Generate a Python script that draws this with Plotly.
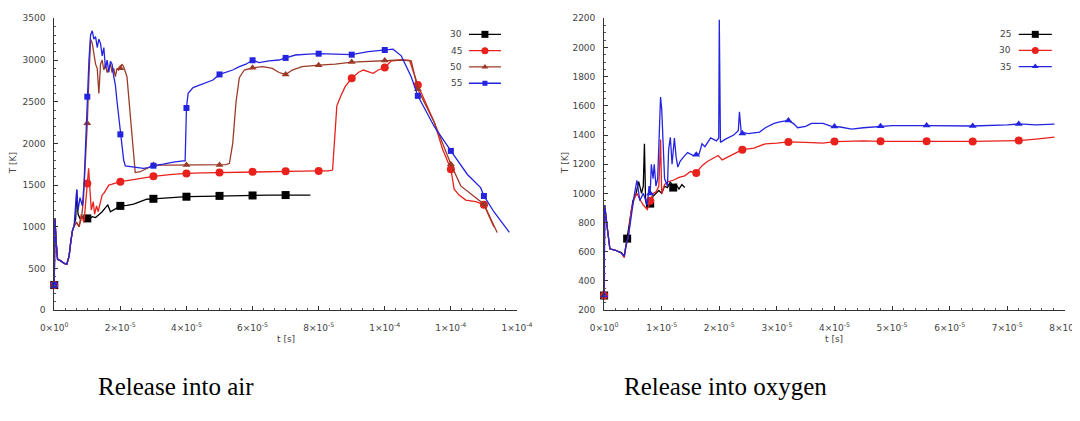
import plotly.graph_objects as go

# Figure size and the observed mapping from figure pixels to the photographed page pixels
W, H = 1092, 416
SX, OX = 0.971, 21.8     # page_x = OX + SX * fig_x
SY, OY = 0.9875, 11.1    # page_y = OY + SY * fig_y

# ---------------- DATA: Release into air (t in units of 1e-5 s, T in K) ----------------
air30_t = [0, 0.02, 0.06, 0.1, 0.2, 0.3, 0.38, 0.45, 0.5, 0.55, 0.6, 0.65, 0.68, 0.72, 0.78, 0.85,
           0.92, 1.0, 1.08, 1.15, 1.25, 1.35, 1.45, 1.55, 1.62, 1.7, 1.8, 1.9, 2.0, 2.2, 2.4, 2.6,
           2.8, 3.0, 3.3, 3.6, 4.0, 4.5, 5.0, 5.5, 6.0, 6.5, 7.0, 7.4, 7.75]
air30_T = [300, 1100, 800, 610, 590, 560, 550, 650, 820, 950, 1010, 1100, 1440, 1150, 1100, 1120,
           1080, 1100, 1100, 1120, 1110, 1140, 1180, 1230, 1260, 1180, 1200, 1230, 1250, 1255, 1270, 1300,
           1330, 1335, 1345, 1350, 1360, 1365, 1370, 1372, 1375, 1378, 1380, 1380, 1380]
air30_mt = [0, 1, 2, 3, 4, 5, 6, 7]
air30_mT = [300, 1100, 1250, 1335, 1360, 1370, 1375, 1380]

air45_t = [0, 0.02, 0.06, 0.1, 0.2, 0.3, 0.38, 0.45, 0.5, 0.55, 0.6, 0.68, 0.75, 0.82, 0.9, 0.95,
           1.0, 1.04, 1.08, 1.12, 1.18, 1.22, 1.28, 1.33, 1.4, 1.45, 1.5, 1.58, 1.65, 1.75, 1.85, 2.0,
           2.3, 2.6, 3.0, 3.5, 4.0, 4.5, 5.0, 5.5, 6.0, 6.5, 7.0, 7.5, 8.0, 8.3, 8.42, 8.48, 8.55,
           8.65, 8.8, 9.0, 9.2, 9.35, 9.5, 9.65, 9.8, 10.0, 10.2, 10.5, 10.75, 11.0, 11.2, 11.5, 11.75,
           12.0, 12.1, 12.25, 12.45, 12.75, 13.0, 13.3]
air45_T = [300, 1100, 800, 610, 590, 560, 550, 650, 820, 950, 1010, 1050, 1000, 1150, 1050, 1250,
           1520, 1700, 1450, 1200, 1300, 1150, 1250, 1180, 1300, 1380, 1400, 1460, 1500, 1510, 1520, 1540,
           1560, 1580, 1605, 1625, 1640, 1645, 1650, 1655, 1660, 1662, 1665, 1667, 1670, 1670, 1680, 2100, 2450,
           2550, 2680, 2780, 2850, 2880, 2860, 2840, 2880, 2910, 2990, 3000, 2995, 2700, 2520, 2250, 1930,
           1690, 1450, 1380, 1320, 1300, 1265, 1000]
air45_mt = [0, 1, 2, 3, 4, 5, 6, 7, 8, 9, 10, 11, 12, 13]
air45_mT = [300, 1520, 1540, 1605, 1640, 1650, 1660, 1665, 1670, 2780, 2910, 2700, 1690, 1265]

air50_t = [0, 0.02, 0.06, 0.1, 0.2, 0.3, 0.38, 0.45, 0.5, 0.55, 0.6, 0.68, 0.75, 0.82, 0.88, 0.96,
           1.0, 1.05, 1.1, 1.15, 1.2, 1.25, 1.3, 1.35, 1.4, 1.45, 1.5, 1.55, 1.6, 1.65, 1.7, 1.75,
           1.8, 1.85, 1.9, 1.95, 2.0, 2.05, 2.1, 2.2, 2.3, 2.38, 2.45, 2.6, 2.8, 3.0, 3.5, 4.0, 4.5,
           5.0, 5.2, 5.3, 5.4, 5.5, 5.6, 5.75, 6.0, 6.3, 6.6, 6.8, 7.0, 7.2, 7.5, 8.0, 8.5, 9.0,
           9.5, 10.0, 10.5, 10.8, 11.0, 11.5, 12.0, 12.3, 12.6, 13.0, 13.4]
air50_T = [300, 1100, 800, 610, 590, 560, 550, 650, 820, 950, 1010, 1050, 1000, 1100, 1300, 1900,
           2240, 2800, 3250, 3200, 3050, 2950, 2900, 2600, 2950, 3000, 2880, 2950, 2850, 2900, 2950, 2850,
           2900, 2800, 2900, 2880, 2900, 2950, 2920, 2800, 2300, 1900, 1650, 1660, 1700, 1740, 1740, 1740, 1740,
           1740, 1745, 1760, 2000, 2500, 2788, 2880, 2906, 2920, 2900, 2850, 2827, 2880, 2920, 2938, 2950, 2975,
           2985, 2993, 3000, 2990, 2650, 2250, 1750, 1490, 1400, 1270, 930]
air50_mt = [0, 1, 2, 3, 4, 5, 6, 7, 8, 9, 10, 11, 12, 13]
air50_mT = [300, 2240, 2900, 1740, 1740, 1740, 2906, 2827, 2938, 2975, 2993, 2650, 1750, 1270]

air55_t = [0, 0.02, 0.06, 0.1, 0.2, 0.3, 0.38, 0.45, 0.5, 0.55, 0.6, 0.65, 0.68, 0.72, 0.78, 0.85,
           0.9, 0.95, 1.0, 1.05, 1.1, 1.15, 1.2, 1.25, 1.3, 1.35, 1.4, 1.45, 1.5, 1.55, 1.6, 1.65,
           1.7, 1.75, 1.8, 1.85, 1.9, 2.0, 2.1, 2.15, 2.3, 2.5, 2.7, 2.85, 3.0, 3.3, 3.6, 3.9, 3.96,
           4.0, 4.05, 4.2, 4.5, 4.8, 5.0, 5.2, 5.4, 5.6, 5.8, 6.0, 6.2, 6.5, 6.8, 7.0, 7.3, 7.7,
           8.0, 8.5, 9.0, 9.5, 10.0, 10.25, 10.5, 10.8, 11.0, 11.5, 12.0, 12.5, 12.9, 13.0, 13.3, 13.77]
air55_T = [300, 1100, 800, 610, 590, 560, 550, 650, 820, 950, 1010, 1250, 1450, 1200, 1350, 1250,
           1500, 2000, 2560, 3000, 3300, 3350, 3250, 3280, 3150, 3250, 3200, 3050, 3150, 2900, 3000, 2850,
           2985, 2950, 2800, 2700, 2500, 2108, 1800, 1730, 1720, 1715, 1700, 1710, 1732, 1750, 1775, 1790, 1790,
           2424, 2600, 2669, 2710, 2760, 2827, 2850, 2880, 2920, 2950, 2997, 2970, 2990, 3000, 3025, 3060, 3070,
           3076, 3070, 3064, 3100, 3120, 3130, 3050, 2800, 2570, 2200, 1910, 1627, 1469, 1369, 1180, 933]
air55_mt = [0, 1, 2, 3, 4, 5, 6, 7, 8, 9, 10, 11, 12, 13]
air55_mT = [300, 2560, 2108, 1732, 2424, 2827, 2997, 3025, 3076, 3064, 3120, 2570, 1910, 1369]

air_labels = ["30", "45", "50", "55"]

# ---------------- DATA: Release into oxygen (t in units of 1e-5 s, T in K) ----------------
oxy25_t = [0, 0.01, 0.05, 0.1, 0.2, 0.3, 0.35, 0.38, 0.4, 0.45, 0.5, 0.55, 0.6, 0.65, 0.68, 0.7,
           0.72, 0.75, 0.8, 0.85, 0.9, 0.95, 1.0, 1.05, 1.1, 1.15, 1.2, 1.25, 1.3, 1.35, 1.4]
oxy25_T = [300, 920, 780, 620, 610, 595, 570, 640, 690, 820, 950, 990, 1080, 1000, 1050, 1340,
           950, 900, 930, 980, 1000, 1020, 1000, 1050, 1040, 1080, 1040, 1060, 1030, 1060, 1040]
oxy25_mt = [0, 0.4, 0.8, 1.2]
oxy25_mT = [300, 690, 930, 1040]

oxy30_t = [0, 0.01, 0.05, 0.1, 0.2, 0.3, 0.35, 0.38, 0.42, 0.47, 0.52, 0.57, 0.62, 0.68, 0.75, 0.8,
           0.85, 0.9, 0.95, 0.98, 1.0, 1.05, 1.1, 1.2, 1.3, 1.4, 1.5, 1.6, 1.7, 1.8, 1.9, 1.98,
           2.05, 2.2, 2.35, 2.4, 2.6, 2.8, 3.0, 3.2, 3.5, 3.8, 4.0, 4.5, 4.8, 5.2, 5.6, 6.0, 6.4,
           7.0, 7.2, 7.5, 7.82]
oxy30_T = [300, 920, 780, 620, 610, 590, 560, 640, 700, 880, 960, 1000, 960, 920, 890, 950,
           1000, 1010, 1050, 1370, 1000, 1060, 1080, 1090, 1110, 1120, 1150, 1140, 1190, 1220, 1240, 1260,
           1230, 1260, 1290, 1300, 1310, 1340, 1345, 1353, 1350, 1345, 1355, 1360, 1357, 1355, 1358, 1356, 1356,
           1360, 1362, 1372, 1385]
oxy30_mt = [0, 0.8, 1.6, 2.4, 3.2, 4.0, 4.8, 5.6, 6.4, 7.2]
oxy30_mT = [300, 950, 1140, 1300, 1353, 1355, 1357, 1358, 1356, 1362]

oxy35_t = [0, 0.01, 0.05, 0.1, 0.2, 0.3, 0.35, 0.38, 0.42, 0.47, 0.52, 0.57, 0.62, 0.68, 0.75, 0.78,
           0.8, 0.82, 0.85, 0.87, 0.9, 0.93, 0.96, 0.98, 1.0, 1.02, 1.05, 1.1, 1.12, 1.15, 1.18, 1.22,
           1.25, 1.28, 1.32, 1.38, 1.45, 1.55, 1.65, 1.7, 1.75, 1.85, 1.95, 1.99, 2.0, 2.02, 2.1, 2.25,
           2.33, 2.35, 2.38, 2.5, 2.7, 2.8, 2.95, 3.05, 3.2, 3.3, 3.36, 3.5, 3.6, 3.8, 3.95, 4.1, 4.3,
           4.5, 4.8, 5.0, 5.6, 6.0, 6.4, 7.0, 7.2, 7.5, 7.82]
oxy35_T = [300, 920, 780, 620, 610, 590, 570, 640, 700, 850, 980, 1090, 950, 1000, 920, 1050,
           1000, 1200, 1100, 1200, 1050, 1100, 1400, 1660, 1580, 1400, 1100, 1050, 1300, 1385, 1200, 1380,
           1250, 1180, 1220, 1250, 1280, 1260, 1270, 1340, 1320, 1380, 1360, 1380, 2190, 1350, 1370, 1400,
           1430, 1560, 1420, 1410, 1420, 1450, 1480, 1490, 1500, 1475, 1450, 1460, 1480, 1480, 1460, 1455, 1440,
           1450, 1460, 1465, 1465, 1465, 1462, 1470, 1476, 1470, 1475]
oxy35_mt = [0, 0.8, 1.6, 2.4, 3.2, 4.0, 4.8, 5.6, 6.4, 7.2]
oxy35_mT = [300, 1000, 1265, 1410, 1500, 1458, 1460, 1465, 1462, 1476]

oxy_labels = ["25", "30", "35"]

# tick labels
air_xticks = [0, 2, 4, 6, 8, 10, 12, 14]
air_xticktext = ["0×10<sup>0</sup>", "2×10<sup>-5</sup>", "4×10<sup>-5</sup>", "6×10<sup>-5</sup>",
                 "8×10<sup>-5</sup>", "1×10<sup>-4</sup>", "1×10<sup>-4</sup>", "1×10<sup>-4</sup>"]
air_yticks = [0, 500, 1000, 1500, 2000, 2500, 3000, 3500]
oxy_xticks = [0, 1, 2, 3, 4, 5, 6, 7, 8]
oxy_xticktext = ["0×10<sup>0</sup>"] + ["%d×10<sup>-5</sup>" % k for k in range(1, 9)]
oxy_yticks = [200, 400, 600, 800, 1000, 1200, 1400, 1600, 1800, 2000, 2200]

captions = ["Release into air", "Release into oxygen"]

# ---------------- STYLE ----------------
BLACK, RED, BROWN, BLUE = "#000000", "#e8211c", "#9c3a28", "#2424e0"
air_series = [
    (air_labels[0], air30_t, air30_T, air30_mt, air30_mT, BLACK, "square", 8),
    (air_labels[1], air45_t, air45_T, air45_mt, air45_mT, RED, "circle", 8),
    (air_labels[2], air50_t, air50_T, air50_mt, air50_mT, BROWN, "triangle-up", 7),
    (air_labels[3], air55_t, air55_T, air55_mt, air55_mT, BLUE, "square", 6),
]
oxy_series = [
    (oxy_labels[0], oxy25_t, oxy25_T, oxy25_mt, oxy25_mT, BLACK, "square", 8),
    (oxy_labels[1], oxy30_t, oxy30_T, oxy30_mt, oxy30_mT, RED, "circle", 8),
    (oxy_labels[2], oxy35_t, oxy35_T, oxy35_mt, oxy35_mT, BLUE, "triangle-up", 7),
]

# page-pixel -> paper conversions
def fx(px):
    return ((px - OX) / SX) / W

def fy(py):
    return 1 - ((py - OY) / SY) / H

fig = go.Figure()

def add_series(series, xa, ya):
    for name, t, T, mt, mT, col, sym, sz in series:
        fig.add_trace(go.Scatter(x=t, y=T, mode="lines", line=dict(color=col, width=1.3),
                                 xaxis=xa, yaxis=ya, showlegend=False, hoverinfo="skip",
                                 cliponaxis=False))
        fig.add_trace(go.Scatter(x=mt, y=mT, mode="markers",
                                 marker=dict(symbol=sym, size=sz, color=col, line=dict(width=0)),
                                 xaxis=xa, yaxis=ya, showlegend=False, hoverinfo="skip",
                                 cliponaxis=False))

add_series(air_series, "x", "y")
add_series(oxy_series, "x2", "y2")

# custom legends (label left of sample), drawn on an overlay axis in page-pixel units
def add_legend(series, x_text, x0, x1, y0, dy):
    for i, (name, t, T, mt, mT, col, sym, sz) in enumerate(series):
        yy = y0 + i * dy
        fig.add_trace(go.Scatter(x=[x0, x1], y=[yy, yy], mode="lines", line=dict(color=col, width=1.3),
                                 xaxis="x3", yaxis="y3", showlegend=False, hoverinfo="skip"))
        fig.add_trace(go.Scatter(x=[(x0 + x1) / 2], y=[yy], mode="markers",
                                 marker=dict(symbol=sym, size=sz - 1, color=col),
                                 xaxis="x3", yaxis="y3", showlegend=False, hoverinfo="skip"))
        fig.add_annotation(x=x_text, y=yy, xref="x3", yref="y3", text=name, showarrow=False,
                           xanchor="right", yanchor="middle", font=dict(size=9, color="#444"))

add_legend(air_series, 463, 468, 500, 32.7, 16.5)
add_legend(oxy_series, 1011, 1017, 1050, 32.7, 16.3)

FONT = "DejaVu Sans"
tickfont = dict(size=9, color="#444", family=FONT)

def xax(dom, rng, vals, text, minor_dt):
    return dict(domain=dom, range=rng, showline=True, linecolor="#333", linewidth=1,
                ticks="inside", ticklen=4, tickcolor="#333", tickmode="array",
                tickvals=vals, ticktext=text, tickfont=tickfont, showgrid=False, zeroline=False,
                ticklabelstandoff=9,
                minor=dict(ticks="inside", ticklen=2, tickcolor="#555", dtick=minor_dt, tick0=0,
                           showgrid=False),
                fixedrange=True)

def yax(dom, rng, vals, minor_dt, anchor):
    return dict(domain=dom, range=rng, anchor=anchor, showline=True, linecolor="#333", linewidth=1,
                ticks="inside", ticklen=4, tickcolor="#333", tickmode="array",
                tickvals=vals, ticktext=[str(v) for v in vals], tickfont=tickfont,
                showgrid=False, zeroline=False, ticklabelstandoff=6,
                minor=dict(ticks="inside", ticklen=2, tickcolor="#555", dtick=minor_dt, tick0=0,
                           showgrid=False),
                fixedrange=True)

ydom = [fy(311.7), fy(16.5)]

fig.update_layout(
    width=W, height=H, margin=dict(l=0, r=0, t=0, b=0),
    paper_bgcolor="white", plot_bgcolor="rgba(0,0,0,0)",
    font=dict(family=FONT, size=9, color="#444"),
    xaxis=dict(anchor="y", **xax([fx(54), fx(516)], [0, 14], air_xticks, air_xticktext, 1 / 3)),
    yaxis=yax(ydom, [0, 3500], air_yticks, 100, "x"),
    xaxis2=dict(anchor="y2", **xax([fx(603), fx(1063)], [0, 8], oxy_xticks, oxy_xticktext, 0.2)),
    yaxis2=yax(ydom, [200, 2200], oxy_yticks, 50, "x2"),
    xaxis3=dict(domain=[0, 1], range=[OX, OX + SX * W], visible=False, anchor="y3", fixedrange=True),
    yaxis3=dict(domain=[0, 1], range=[OY + SY * H, OY], visible=False, anchor="x3", fixedrange=True),
    showlegend=False,
)

# axis titles
for xc in (13, 564):
    fig.add_annotation(x=fx(xc), y=fy(163), xref="paper", yref="paper", text="T [K]",
                       textangle=-90, showarrow=False, xanchor="center", yanchor="middle",
                       font=dict(size=9, color="#444"))
for xc in (285, 833):
    fig.add_annotation(x=fx(xc), y=fy(341), xref="paper", yref="paper", text="t [s]",
                       showarrow=False, xanchor="center", yanchor="middle",
                       font=dict(size=9, color="#444"))
# captions
for xc, txt in zip((176, 724), captions):
    fig.add_annotation(x=fx(xc), y=fy(389), xref="paper", yref="paper", text=txt,
                       showarrow=False, xanchor="center", yanchor="middle",
                       font=dict(size=25, color="#000", family="Liberation Serif"))

fig.write_html("out.html")
